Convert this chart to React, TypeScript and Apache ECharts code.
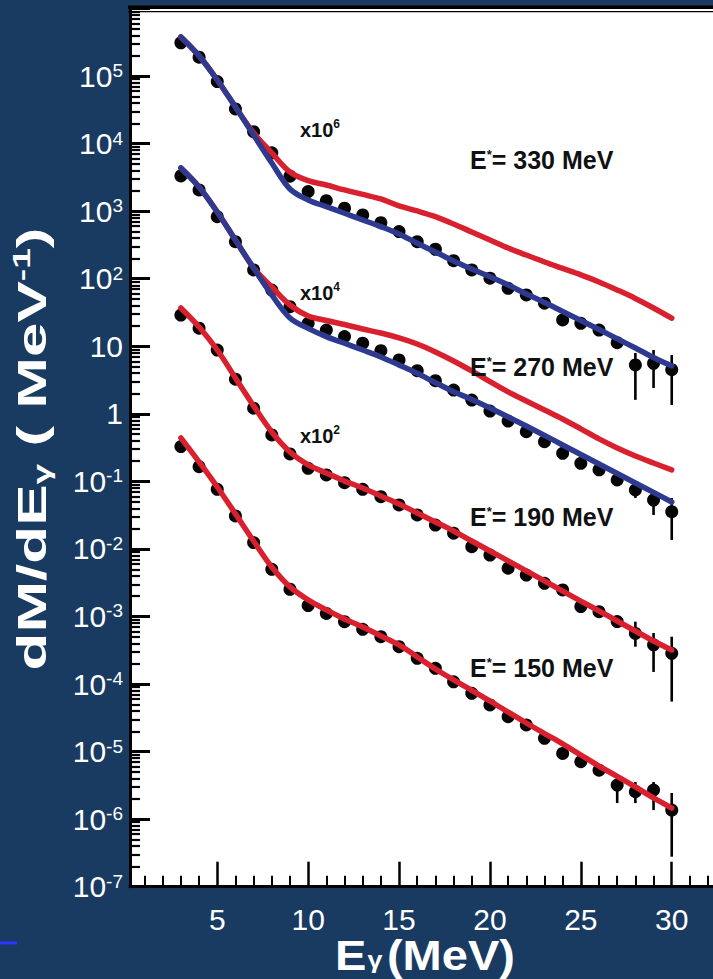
import React, { useEffect, useRef } from "react";
import * as echarts from "echarts";

// ---------- data ----------
const energies = [3, 4, 5, 6, 7, 8, 9, 10, 11, 12, 13, 14, 15, 16, 17, 18, 19, 20, 21, 22, 23, 24, 25, 26, 27, 28, 29, 30];

// E* = 330 MeV (x10^6)
const data330 = [3.1e5, 1.9e5, 8.3e4, 3.26e4, 1.5e4, 7300, 3300, 1950, 1430, 1105, 880, 676, 498, 353, 273, 185, 135, 102, 72, 57.5, 43.4, 24.5, 21.9, 17.4, 11.3, 5.3, 5.6, 4.5];
const blue330 = [3.79e5, 1.99e5, 8.75e4, 3.49e4, 1.34e4, 5170, 2130, 1466, 1167, 931, 741, 590, 459, 335, 249, 183, 139, 107, 81, 59.4, 44.5, 32.7, 24.1, 17.7, 12.9, 9.44, 6.83, 5.11];
const red330 = [3.79e5, 1.99e5, 8.75e4, 3.49e4, 1.44e4, 7280, 3800, 2830, 2440, 2060, 1770, 1515, 1194, 1006, 828, 646, 492, 375, 285, 224, 177, 142, 114, 89.6, 68.2, 51.1, 36.9, 26];
const err330 = [[28, 1.61, 7.96], [29, 2.41, 8.8], [30, 1.35, 7.43]];

// E* = 270 MeV (x10^4)
const data270 = [3320, 2060, 830, 353, 135, 68, 38.5, 21.9, 17.4, 13.9, 11.1, 8.6, 6.27, 4.35, 3.1, 2.25, 1.6, 1.1, 0.78, 0.545, 0.387, 0.26, 0.185, 0.148, 0.105, 0.0747, 0.053, 0.0356];
const blue270 = [4360, 2280, 973, 374, 144, 57.5, 26.2, 18.4, 13.9, 11.1, 8.81, 6.95, 5.29, 3.98, 2.89, 2.13, 1.63, 1.22, 0.9, 0.66, 0.479, 0.346, 0.25, 0.181, 0.131, 0.0946, 0.0686, 0.0495];
const red270 = [4360, 2280, 973, 374, 144, 75.5, 40.8, 28.1, 24.1, 21.0, 18.0, 15.7, 13.3, 10.8, 8.24, 6.06, 4.31, 3.0, 2.11, 1.55, 1.14, 0.84, 0.6, 0.425, 0.312, 0.238, 0.187, 0.148];
const err270 = [[28, 0.0568, 0.0885], [29, 0.0318, 0.0705], [30, 0.01355, 0.0568]];

// E* = 190 MeV (x10^2)
const data190 = [29, 18.5, 8.8, 3.25, 1.21, 0.486, 0.255, 0.156, 0.1245, 0.0957, 0.0764, 0.0594, 0.0448, 0.0318, 0.0226, 0.0171, 0.0108, 0.0081, 0.00518, 0.00411, 0.0031, 0.00247, 0.0014, 0.00118, 0.00084, 0.00056, 0.00038, 0.000285];
const red190 = [36.9, 19.3, 8.81, 3.4, 1.31, 0.538, 0.272, 0.175, 0.133, 0.101, 0.08, 0.0608, 0.0462, 0.034, 0.0251, 0.01845, 0.0131, 0.00933, 0.00664, 0.00472, 0.00336, 0.00238, 0.00169, 0.00121, 0.000857, 0.00061, 0.000434, 0.000319];
const err190 = [[28, 0.000357, 0.000838], [29, 0.000151, 0.00057], [30, 5.5e-5, 0.000502]];

// E* = 150 MeV
const data150 = [0.327, 0.165, 0.0764, 0.0308, 0.0124, 0.005, 0.00253, 0.00145, 0.00111, 0.000838, 0.000647, 0.000502, 0.000357, 0.00024, 0.000171, 1.08e-4, 7.3e-5, 4.9e-5, 3.29e-5, 2.48e-5, 1.57e-5, 9.4e-6, 7.1e-6, 5.3e-6, 3.2e-6, 2.55e-6, 2.7e-6, 1.36e-6];
const red150 = [0.44, 0.194, 0.0826, 0.033, 0.0131, 0.0054, 0.00274, 0.00176, 0.00125, 0.000918, 0.0007, 0.000515, 0.000379, 0.000252, 0.000167, 0.000115, 8.04e-5, 5.61e-5, 3.85e-5, 2.65e-5, 1.85e-5, 1.3e-5, 8.9e-6, 6.1e-6, 4.3e-6, 3.0e-6, 2.06e-6, 1.46e-6];
const err150 = [[27, 1.73e-6, 4.07e-6], [28, 1.73e-6, 3.55e-6], [29, 1.36e-6, 3.55e-6], [30, 2.78e-7, 2.44e-6]];

// axes
const yDecades = [-7, -6, -5, -4, -3, -2, -1, 0, 1, 2, 3, 4, 5, 6];
const yMinorMultipliers = [2, 3, 4, 5, 6, 7, 8, 9];
const xMajorTicks = [5, 10, 15, 20, 25, 30];
const xMinorTicks = [1, 2, 3, 4, 6, 7, 8, 9, 11, 12, 13, 14, 16, 17, 18, 19, 21, 22, 23, 24, 26, 27, 28, 29, 31, 32];

const annotations = [
  { text: "{b|x10}{s|6}", x: 300, y: 130, small: true },
  { text: "{b|x10}{s|4}", x: 300, y: 293, small: true },
  { text: "{b|x10}{s|2}", x: 300, y: 436, small: true },
  { text: "{b|E}{s|*}{b|= 330 MeV}", x: 470, y: 160, small: false },
  { text: "{b|E}{s|*}{b|= 270 MeV}", x: 470, y: 367, small: false },
  { text: "{b|E}{s|*}{b|= 190 MeV}", x: 470, y: 517, small: false },
  { text: "{b|E}{s|*}{b|= 150 MeV}", x: 470, y: 668, small: false },
];

const FONT = '"Liberation Sans", Arial, Helvetica, sans-serif';
const BLUE = "#2d3a90";
const RED = "#d8202e";
const BG = "#193b61";

const lg = (v: number) => Math.log10(v);
const pts = (vals: number[]) => energies.map((e, i) => [e, lg(vals[i])]);

function scatter(vals: number[]) {
  return {
    type: "scatter",
    data: pts(vals),
    symbol: "circle",
    symbolSize: 13,
    itemStyle: { color: "#050505", opacity: 1 },
    z: 2,
    silent: true,
  };
}
function curve(vals: number[], color: string, z: number) {
  return {
    type: "line",
    data: pts(vals),
    smooth: 0.35,
    showSymbol: false,
    symbol: "none",
    lineStyle: { color, width: 5.5, cap: "round", opacity: 1 },
    z,
    silent: true,
  };
}
function errorBars(errs: number[][]) {
  return {
    type: "custom",
    data: errs.map(([e, lo, hi]) => [e, lg(lo), lg(hi)]),
    encode: { x: 0, y: [1, 2] },
    z: 2,
    silent: true,
    renderItem: (_p: any, api: any) => {
      const x = api.value(0);
      const a = api.coord([x, api.value(1)]);
      const b = api.coord([x, api.value(2)]);
      return {
        type: "line",
        shape: { x1: a[0], y1: a[1], x2: b[0], y2: b[1] },
        style: { stroke: "#000", lineWidth: 2.6 },
      };
    },
  };
}

export default function App() {
  const ref = useRef<HTMLDivElement>(null);
  useEffect(() => {
    if (!ref.current) return;
    const chart = echarts.init(ref.current, undefined, { renderer: "svg" });
    const minorY: number[] = [];
    yDecades.slice(0, -1).forEach((d) => yMinorMultipliers.forEach((m) => minorY.push(d + Math.log10(m))));

    const yLabelRich = {
      b: { fontSize: 30, color: "#fff", fontFamily: FONT, lineHeight: 30 },
      s: { fontSize: 19, color: "#fff", fontFamily: FONT, lineHeight: 16, verticalAlign: "top" },
    };

    const option: any = {
      animation: false,
      backgroundColor: BG,
      grid: {
        left: 130,
        right: 0,
        top: 8.5,
        bottom: 92.3,
        show: true,
        backgroundColor: "#ffffff",
        borderWidth: 0,
        containLabel: false,
        outerBoundsMode: "none",
      },
      xAxis: [
        {
          type: "value",
          min: 0.2,
          max: 32.27,
          position: "bottom",
          axisLine: { show: true, onZero: false, lineStyle: { color: "#000", width: 3 } },
          axisTick: { show: true, inside: true, length: 25, customValues: xMajorTicks, lineStyle: { color: "#000", width: 2.5 } },
          axisLabel: { show: true, customValues: xMajorTicks, color: "#fff", fontSize: 30, fontFamily: FONT, margin: 18 },
          splitLine: { show: false },
        },
        {
          type: "value",
          min: 0.2,
          max: 32.27,
          position: "bottom",
          axisLine: { show: false, onZero: false },
          axisTick: { show: true, inside: true, length: 11, customValues: xMinorTicks, lineStyle: { color: "#000", width: 2 } },
          axisLabel: { show: false },
          splitLine: { show: false },
        },
      ],
      yAxis: [
        {
          type: "value",
          min: -7,
          max: 6,
          interval: 1,
          position: "left",
          axisLine: { show: true, onZero: false, lineStyle: { color: "#000", width: 3 } },
          axisTick: { show: true, inside: true, length: 20, lineStyle: { color: "#000", width: 3 } },
          axisLabel: {
            show: true,
            margin: 7,
            formatter: (v: number) => {
              const e = Math.round(v);
              if (e >= 6) return "";
              if (e === 0) return "{b|1}";
              if (e === 1) return "{b|10}";
              return `{b|10}{s|${e}}`;
            },
            rich: yLabelRich,
          },
          splitLine: { show: false },
        },
        {
          type: "value",
          min: -7,
          max: 6,
          position: "left",
          axisLine: { show: false, onZero: false },
          axisTick: { show: true, inside: true, length: 10, customValues: minorY, lineStyle: { color: "#000", width: 2.2 } },
          axisLabel: { show: false },
          splitLine: { show: false },
        },
      ],
      series: [
        scatter(data330), errorBars(err330), curve(red330, RED, 3), curve(blue330, BLUE, 4),
        scatter(data270), errorBars(err270), curve(red270, RED, 3), curve(blue270, BLUE, 4),
        scatter(data190), errorBars(err190), curve(red190, RED, 3),
        scatter(data150), errorBars(err150), curve(red150, RED, 3),
      ],
      graphic: [
        { type: "rect", shape: { x: 128, y: 5.5, width: 600, height: 3.6 }, style: { fill: "#000" }, z: 100 },
        { type: "rect", shape: { x: 128, y: 11, width: 600, height: 1.3 }, style: { fill: "#000" }, z: 100 },
        { type: "rect", shape: { x: 0, y: 941.5, width: 17, height: 3 }, style: { fill: "#2a35ff" }, z: 100 },
        ...annotations.map((a) => ({
          type: "text",
          x: a.x,
          y: a.y,
          z: 100,
          style: {
            text: a.text,
            align: "left",
            verticalAlign: "middle",
            textAlign: "left",
            textVerticalAlign: "middle",
            rich: {
              b: { fontSize: a.small ? 20 : 25, fontWeight: "bold", fontFamily: FONT, fill: "#111", lineHeight: 24 },
              s: { fontSize: a.small ? 12 : 13, fontWeight: "bold", fontFamily: FONT, fill: "#111", lineHeight: 12, verticalAlign: "top" },
            },
          },
        })),
        {
          type: "text",
          x: 32,
          y: 449,
          rotation: Math.PI / 2,
          scaleX: 1.55,
          z: 100,
          style: {
            text: "{t|dM/dE}{g|γ}{t| ( MeV}{p|-1}{t|)}",
            align: "center",
            verticalAlign: "middle",
            textAlign: "center",
            textVerticalAlign: "middle",
            rich: {
              t: { fontSize: 40, fontWeight: "bold", fontFamily: FONT, fill: "#fff", lineHeight: 44 },
              g: { fontSize: 24, fontWeight: "bold", fontFamily: FONT, fill: "#fff", lineHeight: 22, verticalAlign: "bottom" },
              p: { fontSize: 24, fontWeight: "bold", fontFamily: FONT, fill: "#fff", lineHeight: 20, verticalAlign: "top" },
            },
          },
        },
        {
          type: "text",
          x: 425,
          y: 955,
          scaleX: 1.12,
          z: 100,
          style: {
            text: "{t|E}{g|γ}{t|(MeV)}",
            align: "center",
            verticalAlign: "middle",
            textAlign: "center",
            textVerticalAlign: "middle",
            rich: {
              t: { fontSize: 42, fontWeight: "bold", fontFamily: FONT, fill: "#fff", lineHeight: 34 },
              g: { fontSize: 24, fontWeight: "bold", fontFamily: FONT, fill: "#fff", lineHeight: 20, verticalAlign: "bottom", padding: [0, 4, 0, 1] },
            },
          },
        },
      ],
    };
    chart.setOption(option);
    return () => chart.dispose();
  }, []);
  return <div ref={ref} style={{ position: "fixed", left: 0, top: 0, width: 713, height: 979 }} />;
}
